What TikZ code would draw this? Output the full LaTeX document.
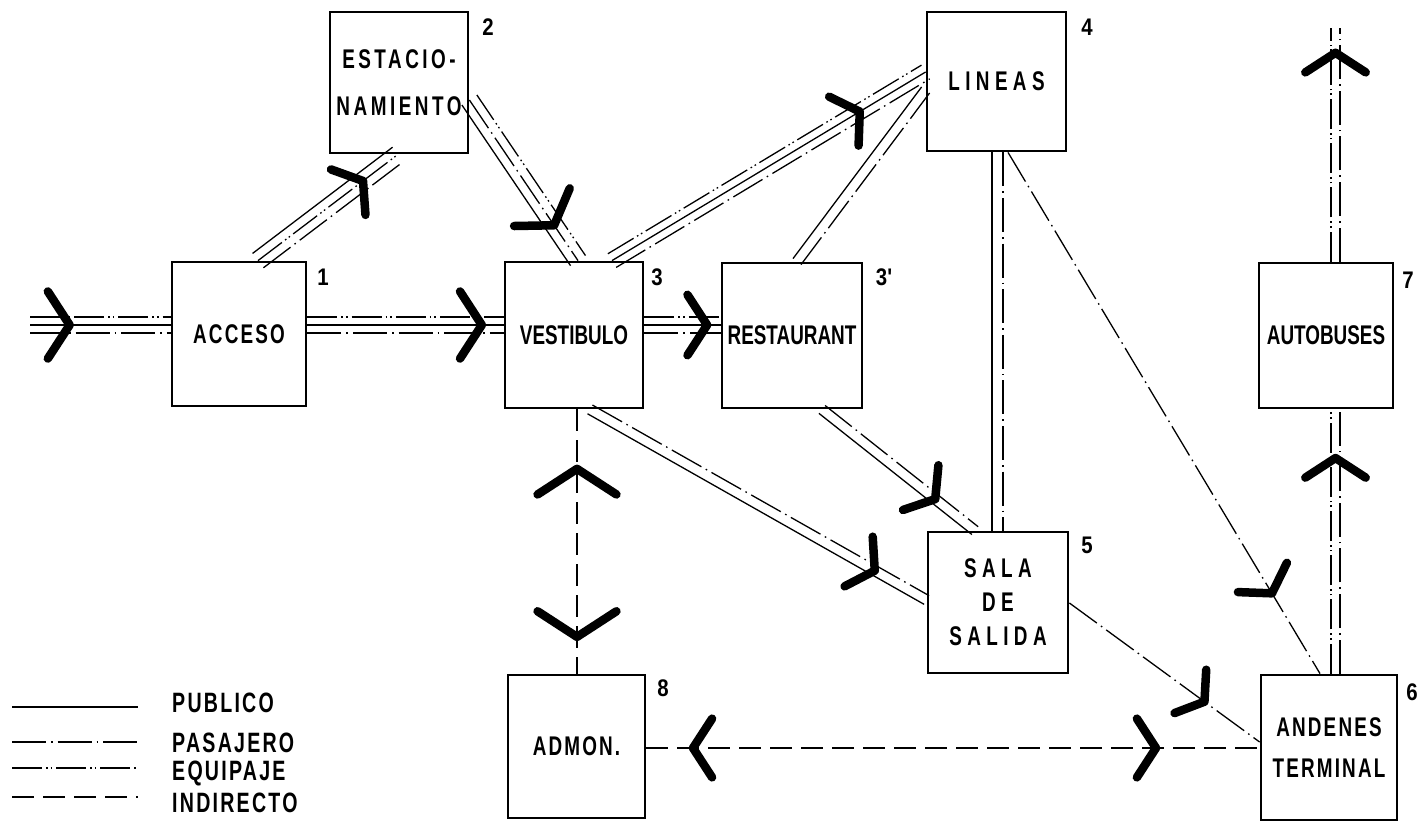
\documentclass[tikz,border=0pt]{standalone}
\usepackage{fontspec}
\usetikzlibrary{calc}
\newfontfamily\lt[FakeStretch=0.7]{Liberation Sans}
\newfontfamily\lts[FakeStretch=0.7,LetterSpace=8]{Liberation Sans}
\newfontfamily\ltm[FakeStretch=0.7,LetterSpace=13]{Liberation Sans}
\newfontfamily\ltw[FakeStretch=0.7,LetterSpace=20]{Liberation Sans}
\newfontfamily\ltn[FakeStretch=0.85]{Liberation Sans}
\newcommand{\bline}[4]{\draw[#1] ($(#3)!#2!90:(#4)$) -- ($(#4)!#2!-90:(#3)$);}
\tikzset{
  pics/chev/.style={code={\draw[chevline] (-0.545*#1,0.839*#1) -- (0,0) -- (-0.545*#1,-0.839*#1);}},
  pics/chev/.default=38,
}
\begin{document}
\begin{tikzpicture}[x=1pt,y=-1pt,
  pub/.style={line width=1.3pt},
  pas/.style={line width=1.3pt,dash pattern=on 34pt off 5pt on 1.6pt off 5pt},
  equ/.style={line width=1.3pt,dash pattern=on 30pt off 4pt on 1.6pt off 3pt on 1.6pt off 4pt},
  ind/.style={line width=1.3pt,dash pattern=on 22pt off 9pt},
  room/.style={draw,line width=2.8pt,inner sep=0pt,align=center},
  rf/.style={font=\lt\bfseries\fontsize{27}{32}\selectfont},
  rfs/.style={font=\lts\bfseries\fontsize{27}{#1}\selectfont},
  rfs/.default=32,
  rfm/.style={font=\ltm\bfseries\fontsize{27}{#1}\selectfont},
  rfw/.style={font=\ltw\bfseries\fontsize{27}{#1}\selectfont},
  num/.style={font=\ltn\bfseries\fontsize{24}{24}\selectfont,inner sep=0pt},
  leg/.style={font=\lts\bfseries\fontsize{28}{28}\selectfont,anchor=west,inner sep=0pt},
  chevline/.style={line width=8.5pt,line cap=round,line join=round},
  ch/.style={pos=#1,sloped,allow upside down},
]
\useasboundingbox[fill=white] (0,0) rectangle (1424,822);

% rooms
\node[room,rfs,minimum width=134pt,minimum height=144pt] (acc) at (239,334) {ACCESO};
\node[room,rfm=47,minimum width=138pt,minimum height=141pt] (est) at (399,82.5) {ESTACIO-\\NAMIENTO};
\node[room,rf,minimum width=138pt,minimum height=146pt] (ves) at (574,335) {VESTIBULO};
\node[room,rf,minimum width=140pt,minimum height=145pt] (res) at (792,335.5) {RESTAURANT};
\node[room,rfw=32,minimum width=139pt,minimum height=139pt] (lin) at (996.5,81.5) {LINEAS};
\node[room,rfw=34,minimum width=140pt,minimum height=141pt] (sal) at (998,602.5) {SALA\\DE\\SALIDA};
\node[room,rfs=41,minimum width=136pt,minimum height=145pt] (andn) at (1329,747.5) {ANDENES\\TERMINAL};
\node[room,rf,minimum width=134pt,minimum height=145pt] (aut) at (1326,335.5) {AUTOBUSES};
\node[room,rfs,minimum width=137pt,minimum height=143pt] (adm) at (576.5,746.5) {ADMON.};

% numbers
\node[num] (n1) at (323,277) {1};
\node[num] (n2) at (488,27) {2};
\node[num] (n3) at (657,277) {3};
\node[num] (n3p) at (884,277) {3'};
\node[num] (n4) at (1087,27) {4};
\node[num] (n5) at (1087,545) {5};
\node[num] (n6) at (1412,692) {6};
\node[num] (n7) at (1408,280) {7};
\node[num] (n8) at (663,688) {8};

% connector end points
\coordinate (inE) at (30,325);
\coordinate (accL) at (acc.west |- inE);
\coordinate (accR) at (acc.east |- inE);
\coordinate (vesL) at (ves.west |- inE);
\coordinate (vesR) at (ves.east |- inE);
\coordinate (resL) at (res.west |- inE);
\coordinate (accT) at (acc.north -| 258,0);
\coordinate (estB) at (est.south -| 398,0);
\coordinate (estR) at (est.east |- 0,100);
\coordinate (vesT1) at (ves.north -| 578,0);
\coordinate (vesT2) at (ves.north -| 612,0);
\coordinate (linL1) at (lin.west |- 0,72);
\coordinate (resT) at (res.north -| 797,0);
\coordinate (linL2) at (lin.west |- 0,90);
\coordinate (linB1) at (lin.south -| 997.5,0);
\coordinate (salT1) at (sal.north -| 997.5,0);
\coordinate (linB2) at (lin.south -| 1008,0);
\coordinate (andT) at (andn.north -| 1320,0);
\coordinate (resB) at (res.south -| 822,0);
\coordinate (salT2) at (sal.north -| 975,0);
\coordinate (vesB1) at (ves.south -| 590,0);
\coordinate (salL) at (sal.west |- 0,600);
\coordinate (salR) at (sal.east |- 0,603);
\coordinate (andL1) at (andn.west |- 0,742);
\coordinate (vesB2) at (ves.south -| 577,0);
\coordinate (admT) at (adm.north -| 577,0);
\coordinate (admR) at (adm.east |- 0,748);
\coordinate (andL2) at (andn.west |- 0,748);
\coordinate (andT2) at (andn.north -| 1335.5,0);
\coordinate (autB) at (aut.south -| 1335.5,0);
\coordinate (autT) at (aut.north -| 1335.5,0);
\coordinate (exitT) at (1335.5,28);

% main horizontal bundles
\bline{equ}{8pt}{inE}{accL}\bline{pub}{0pt}{inE}{accL}\bline{pas}{-8pt}{inE}{accL}
\bline{equ}{8pt}{accR}{vesL}\bline{pub}{0pt}{accR}{vesL}\bline{pas}{-8pt}{accR}{vesL}
\bline{equ}{8pt}{vesR}{resL}\bline{pub}{0pt}{vesR}{resL}\bline{pas}{-8pt}{vesR}{resL}
% acceso - estacionamiento
\bline{pub}{9pt}{accT}{estB}\bline{equ}{0pt}{accT}{estB}\bline{pas}{-9pt}{accT}{estB}
% estacionamiento - vestibulo
\bline{equ}{9pt}{estR}{vesT1}\bline{pas}{0pt}{estR}{vesT1}\bline{pub}{-9pt}{estR}{vesT1}
% vestibulo - lineas
\bline{equ}{8pt}{vesT2}{linL1}\bline{pub}{0pt}{vesT2}{linL1}\bline{pas}{-8pt}{vesT2}{linL1}
% restaurant - lineas
\bline{pub}{5pt}{resT}{linL2}\bline{pas}{-5pt}{resT}{linL2}
% lineas - sala
\bline{pas}{5.5pt}{linB1}{salT1}\bline{pub}{-5.5pt}{linB1}{salT1}
% restaurant - sala
\bline{pas}{5pt}{resB}{salT2}\bline{pub}{-5pt}{resB}{salT2}
% vestibulo - sala
\bline{pas}{5pt}{vesB1}{salL}\bline{pub}{-5pt}{vesB1}{salL}
% lineas - andenes, sala - andenes
\draw[pas] (linB2) -- (andT);
\draw[pas] (salR) -- (andL1);
% vestibulo - admon, admon - andenes
\draw[ind] (vesB2) -- (admT);
\draw[ind] (admR) -- (andL2);
% andenes - autobuses - exit
\bline{equ}{4.5pt}{andT2}{autB}\bline{pas}{-4.5pt}{andT2}{autB}
\bline{equ}{4.5pt}{autT}{exitT}\bline{pas}{-4.5pt}{autT}{exitT}

% chevrons
\path (inE) -- (accL) pic[ch=0.282]{chev=40};
\path (accR) -- (vesL) pic[ch=0.889]{chev=40};
\path (vesR) -- (resL) pic[ch=0.823]{chev=36};
\path (accT) -- (estB) pic[ch=0.75]{chev=34};
\path (estR) -- (vesT1) pic[ch=0.78]{chev=40};
\path (vesT2) -- (linL1) pic[ch=0.79]{chev=34};
\path (resB) -- (salT2) pic[ch=0.74]{chev=34};
\path (vesB1) -- (salL) pic[ch=0.846]{chev=34};
\path (linB2) -- (andT) pic[ch=0.846]{chev=34};
\path (salR) -- (andL1) pic[ch=0.71]{chev=32};
\path (admT) -- (vesB2) pic[ch=0.775]{chev=47};
\path (vesB2) -- (admT) pic[ch=0.861]{chev=47};
\path (andL2) -- (admR) pic[ch=0.924]{chev=35};
\path (admR) -- (andL2) pic[ch=0.831]{chev=35};
\path (andT2) -- (autB) pic[ch=0.816]{chev=36};
\path (autT) -- (exitT) pic[ch=0.894]{chev=36};

% legend
\draw[pub] (12,707) -- (138,707);
\draw[pas] (12,742) -- (138,742);
\draw[equ] (12,768) -- (138,768);
\draw[ind] (12,797) -- (138,797);
\node[leg] (l1) at (172,703) {PUBLICO};
\node[leg] (l2) at (172,743) {PASAJERO};
\node[leg] (l3) at (172,773) {EQUIPAJE};
\node[leg] (l4) at (172,803) {INDIRECTO};
\end{tikzpicture}
\end{document}
